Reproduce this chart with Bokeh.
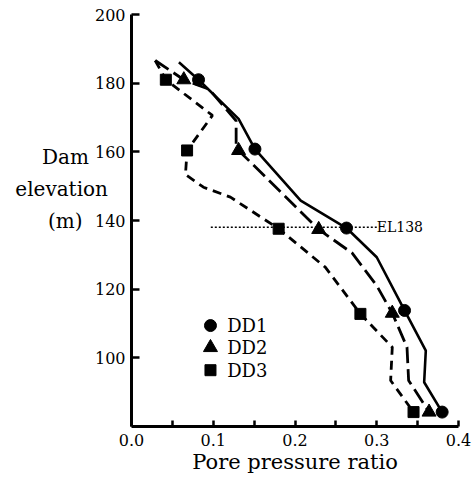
from bokeh.plotting import figure
from bokeh.models import Range1d, FixedTicker, Label
from bokeh.embed import file_html
from bokeh.resources import INLINE

# ---- data ----
# measured points (markers)
dd1_x = [0.082, 0.151, 0.263, 0.334, 0.380]
dd1_y = [181.0, 160.8, 137.8, 113.8, 84.2]
dd2_x = [0.064, 0.131, 0.229, 0.319, 0.364]
dd2_y = [181.0, 160.4, 137.4, 113.0, 84.2]
dd3_x = [0.042, 0.068, 0.180, 0.280, 0.345]
dd3_y = [181.0, 160.4, 137.6, 112.8, 84.2]

# profile lines
dd1_line_x = [0.058, 0.082, 0.131, 0.151, 0.207, 0.263, 0.300, 0.334, 0.360, 0.358, 0.380]
dd1_line_y = [186.1, 181.0, 169.6, 160.8, 145.8, 137.8, 129.3, 113.8, 102.1, 92.9, 84.2]
dd2_line_x = [0.029, 0.064, 0.095, 0.128, 0.128, 0.131, 0.229, 0.270, 0.300, 0.319, 0.337, 0.339, 0.364]
dd2_line_y = [186.6, 181.0, 178.2, 169.0, 162.0, 160.4, 137.4, 130.5, 121.0, 113.0, 103.1, 93.4, 84.2]
dd3_line_x = [0.029, 0.042, 0.099, 0.068, 0.066, 0.088, 0.121, 0.180, 0.237, 0.280, 0.319, 0.317, 0.345]
dd3_line_y = [186.6, 181.0, 170.6, 160.4, 153.4, 149.7, 146.8, 137.6, 126.4, 112.8, 103.1, 93.4, 84.2]

el_line_x = [0.097, 0.300]
el_value = 138
el_text = "EL138"

series_names = ["DD1", "DD2", "DD3"]
x_ticks = [0.0, 0.05, 0.1, 0.15, 0.2, 0.25, 0.3, 0.35, 0.4]
x_tick_labels = {0.0: "0.0", 0.05: "", 0.1: "0.1", 0.15: "", 0.2: "0.2",
                 0.25: "", 0.3: "0.3", 0.35: "", 0.4: "0.4"}
y_ticks = [100, 120, 140, 160, 180, 200]
x_title = "Pore pressure ratio"
y_title_lines = ["Dam", "elevation", "(m)"]

FONT = "DejaVu Serif"
NB = "\u00a0"

p = figure(width=473, height=482, output_backend="svg", toolbar_location=None,
           x_range=Range1d(0, 0.4), y_range=Range1d(80, 200),
           min_border_left=131, min_border_right=15, min_border_top=14,
           min_border_bottom=56)
p.outline_line_color = None
p.xgrid.visible = False
p.ygrid.visible = False
p.background_fill_color = "white"
p.border_fill_color = "white"

for ax in (p.xaxis[0], p.yaxis[0]):
    ax.axis_line_width = 3
    ax.axis_line_color = "black"
    ax.major_tick_line_width = 2.5
    ax.major_tick_line_color = "black"
    ax.major_tick_out = 0
    ax.minor_tick_line_color = None
    ax.major_label_text_font = FONT
    ax.major_label_text_font_size = "16px"
    ax.major_label_text_color = "black"

p.xaxis.ticker = FixedTicker(ticks=x_ticks)
p.xaxis.major_label_overrides = x_tick_labels
p.xaxis.major_tick_in = 6
p.xaxis.major_label_standoff = 7
p.xaxis.axis_label = x_title
p.xaxis.axis_label_text_font = FONT
p.xaxis.axis_label_text_font_size = "21px"
p.xaxis.axis_label_text_font_style = "normal"
p.xaxis.axis_label_text_color = "black"
p.xaxis.axis_label_standoff = 1

p.yaxis.ticker = FixedTicker(ticks=y_ticks)
p.yaxis.major_tick_in = 8
p.yaxis.major_label_standoff = 6
# three-line horizontal title (lines are right-aligned by the axis, so pad
# shorter lines); two blank lines below lift the block upward
y_title = "\n".join([y_title_lines[0] + NB * 3,
                     y_title_lines[1],
                     y_title_lines[2] + NB * 4,
                     NB, NB])
p.yaxis.axis_label = y_title
p.yaxis.axis_label_orientation = "horizontal"
p.yaxis.axis_label_text_font = FONT
p.yaxis.axis_label_text_font_size = "20px"
p.yaxis.axis_label_text_font_style = "normal"
p.yaxis.axis_label_text_color = "black"
p.yaxis.axis_label_text_line_height = 1.33
p.yaxis.axis_label_standoff = -16

# lines
p.line(dd1_line_x, dd1_line_y, line_color="black", line_width=2.6)
p.line(dd2_line_x, dd2_line_y, line_color="black", line_width=2.8, line_dash="16 6")
p.line(dd3_line_x, dd3_line_y, line_color="black", line_width=2.8, line_dash="9 6")
p.line(el_line_x, [el_value, el_value], line_color="black", line_width=1.5, line_dash="2 2")

# markers
p.scatter(dd1_x, dd1_y, marker="circle", size=12, fill_color="black", line_color="black")
p.scatter(dd2_x, dd2_y, marker="triangle", size=14, fill_color="black", line_color="black")
p.scatter(dd3_x, dd3_y, marker="square", size=11, fill_color="black", line_color="black")

p.add_layout(Label(x=el_line_x[1], y=el_value, text=el_text, text_font=FONT,
                   text_font_size="14px", text_baseline="alphabetic", text_align="left",
                   text_color="black"))

# legend (custom, markers only)
leg_x = 0.0966
leg_y = [109.4, 103.0, 96.4]
for mk, sz, yy, name in zip(["circle", "triangle", "square"], [12, 14, 11], leg_y, series_names):
    p.scatter([leg_x], [yy], marker=mk, size=sz, fill_color="black", line_color="black")
    p.add_layout(Label(x=0.117, y=yy, text=name, text_font=FONT, text_font_size="18px",
                       text_baseline="middle", text_align="left", text_color="black"))

open("out.html", "w").write(file_html(p, INLINE))
